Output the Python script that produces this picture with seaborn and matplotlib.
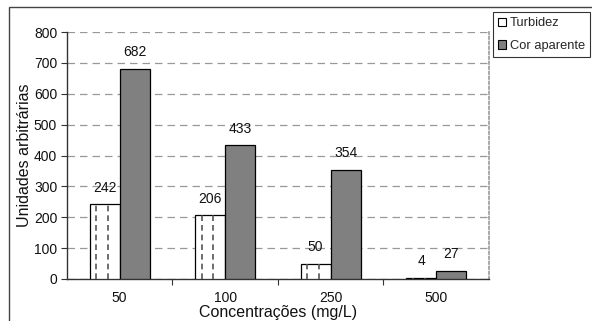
import matplotlib
matplotlib.use("Agg")
import matplotlib.pyplot as plt
from matplotlib.patches import Rectangle
import seaborn as sns
import pandas as pd

concentracoes = ["50", "100", "250", "500"]
turbidez = [242, 206, 50, 4]
cor_aparente = [682, 433, 354, 27]
series = ["Turbidez", "Cor aparente"]

df = pd.DataFrame({
    "conc": concentracoes * 2,
    "valor": turbidez + cor_aparente,
    "serie": [series[0]] * len(concentracoes) + [series[1]] * len(concentracoes),
})

sns.set_theme(style="white")
plt.rcParams["font.family"] = ["Liberation Sans", "DejaVu Sans"]

fig = plt.figure(figsize=(5.92, 3.21), dpi=100)
ax = fig.add_axes([0.113, 0.131, 0.713, 0.769])

sns.barplot(data=df, x="conc", y="valor", hue="serie", order=concentracoes,
            hue_order=series, palette=["white", "#808080"], width=0.57,
            edgecolor="black", linewidth=0.9, ax=ax, legend=False, zorder=3)

# dashed vertical fill pattern inside the Turbidez bars
for bar in ax.containers[0]:
    x0, w, h = bar.get_x(), bar.get_width(), bar.get_height()
    xs = [x0 + w * f for f in (0.22, 0.61)]
    lines = ax.vlines(xs, 0, h, colors="#555555", linewidth=1.2,
                      linestyles=[(0, (3.4, 2.4))], zorder=3.5)
    lines.set_clip_path(bar)

for cont in ax.containers:
    for bar in cont:
        h = bar.get_height()
        ax.annotate(f"{int(h)}", (bar.get_x() + bar.get_width() / 2, h),
                    xytext=(0, 7), textcoords="offset points",
                    ha="center", va="bottom", fontsize=10, color="#111111")

ax.set_ylim(0, 800)
ax.set_xlim(-0.5, 3.5)
ax.set_yticks(range(0, 801, 100))
ax.yaxis.grid(True, linestyle=(0, (6, 4)), color="#999999", linewidth=0.9, zorder=0)
ax.set_axisbelow(True)

ax.set_xticks(range(len(concentracoes)))
ax.set_xticks([0.5, 1.5, 2.5], minor=True)
ax.tick_params(axis="x", which="major", length=0, pad=9, labelsize=10, colors="#111111")
ax.tick_params(axis="x", which="minor", length=4, direction="out", width=0.8, color="#333333", bottom=True)
ax.tick_params(axis="y", length=4, direction="out", width=0.8, color="#333333",
               labelsize=10, labelcolor="#111111", left=True, pad=3)

ax.set_xlabel("Concentrações (mg/L)", fontsize=11.5, color="#111111", labelpad=0)
ax.set_ylabel("Unidades arbitrárias", fontsize=11.5, color="#111111", labelpad=1)

for side in ["left", "bottom"]:
    ax.spines[side].set_color("#333333")
    ax.spines[side].set_linestyle((0, (2, 1)))
    ax.spines[side].set_linewidth(1.0)
ax.spines["right"].set_color("#999999")
ax.spines["right"].set_linestyle((0, (1.5, 1.5)))
ax.spines["right"].set_linewidth(1.2)
ax.spines["top"].set_visible(False)

handles = [Rectangle((0, 0), 1, 1, facecolor=c, edgecolor="black", linewidth=0.8)
           for c in ["white", "#808080"]]
leg = fig.legend(handles, series, loc="upper left",
                 bbox_to_anchor=(493 / 592, 1 - 12 / 321), fontsize=9.3,
                 frameon=True, fancybox=False, edgecolor="black",
                 handlelength=0.6, handleheight=0.6, handletextpad=0.3,
                 borderpad=0.4, labelspacing=0.85, borderaxespad=0)
leg.get_frame().set_linewidth(0.8)

fig.patches.append(Rectangle((9 / 592, -0.2), 1.2, 1.2 - 7 / 321,
                             transform=fig.transFigure, fill=False,
                             edgecolor="#444444", linewidth=1.0))

fig.savefig("out.png", dpi=100)
